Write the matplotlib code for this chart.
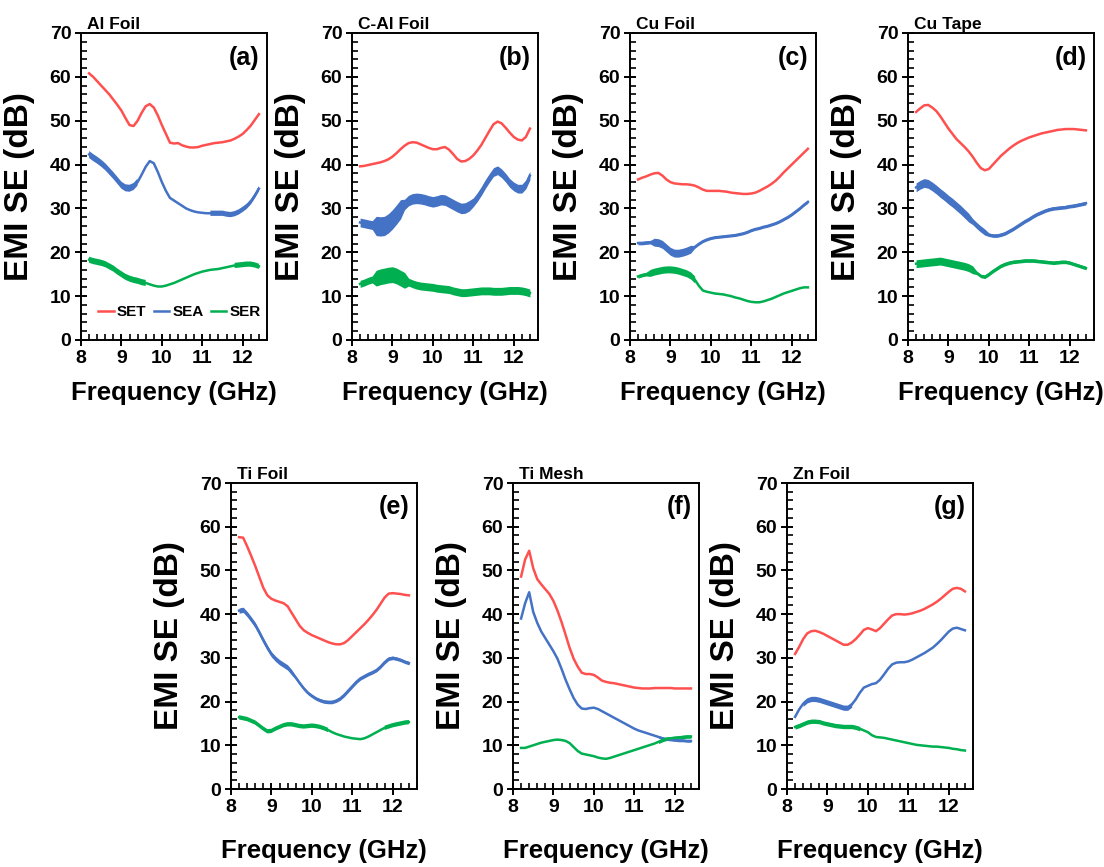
import numpy as np
import matplotlib
matplotlib.use("Agg")
import matplotlib.pyplot as plt
from matplotlib.ticker import MultipleLocator

plt.rcParams["font.family"] = ["Liberation Sans", "DejaVu Sans"]
plt.rcParams["font.weight"] = "bold"

# frequency axis (GHz)
FREQ = [8.2, 8.3, 8.4, 8.5, 8.6, 8.7, 8.8, 8.9, 9.0, 9.1, 9.2, 9.3, 9.4, 9.5,
        9.6, 9.7, 9.8, 9.9, 10.0, 10.1, 10.2, 10.3, 10.4, 10.5, 10.6, 10.7,
        10.8, 10.9, 11.0, 11.1, 11.2, 11.3, 11.4, 11.5, 11.6, 11.7, 11.8,
        11.9, 12.0, 12.1, 12.2, 12.3, 12.4]

# (a) Al Foil
AL_SET = [60.8, 60.0, 59.0, 58.0, 57.0, 56.0, 54.8, 53.6, 52.3, 50.6, 49.0, 48.8, 50.0, 51.8,
          53.3, 53.8, 53.0, 51.2, 49.0, 47.0, 45.0, 44.8, 44.9, 44.4, 44.1, 43.9,
          43.9, 44.0, 44.3, 44.5, 44.7, 44.9, 45.0, 45.1, 45.3, 45.5, 45.9,
          46.4, 47.0, 47.9, 48.9, 50.2, 51.5]
AL_SEA = [42.3, 41.6, 41.0, 40.3, 39.5, 38.5, 37.5, 36.4, 35.3, 34.7, 34.6, 35.0, 36.0, 37.7,
          39.5, 40.8, 40.3, 38.3, 36.0, 34.0, 32.4, 31.8, 31.2, 30.6, 30.0, 29.6,
          29.3, 29.1, 29.0, 28.9, 28.9, 28.9, 28.9, 28.9, 28.7, 28.6, 28.8,
          29.2, 29.8, 30.5, 31.5, 32.9, 34.5]
AL_SER = [18.3, 18.0, 17.8, 17.6, 17.3, 16.8, 16.3, 15.6, 15.0, 14.4, 14.0, 13.7, 13.5, 13.2,
          13.0, 12.7, 12.4, 12.2, 12.2, 12.4, 12.7, 13.0, 13.4, 13.8, 14.2, 14.6,
          15.0, 15.3, 15.6, 15.8, 16.0, 16.1, 16.2, 16.4, 16.6, 16.8, 17.0,
          17.1, 17.2, 17.3, 17.3, 17.1, 16.8]
# ripple envelopes: (from GHz, to GHz, half width dB)
AL_RIP = {"SET": [], "SEA": [(8.2, 9.4, 0.8), (11.2, 12.4, 0.6)],
          "SER": [(8.2, 9.6, 0.7), (11.8, 12.4, 0.6)]}

# (b) C-Al Foil
CAL_SET = [39.6, 39.7, 39.9, 40.1, 40.3, 40.5, 40.8, 41.2, 41.8, 42.6, 43.5, 44.3, 44.9, 45.1,
           45.0, 44.6, 44.2, 43.8, 43.5, 43.5, 43.8, 44.0, 43.4, 42.4, 41.3, 40.7,
           40.8, 41.3, 42.1, 43.2, 44.5, 46.1, 47.7, 49.2, 49.8, 49.4, 48.4,
           47.3, 46.3, 45.7, 45.5, 46.3, 48.2]
CAL_SEA = [26.8, 26.6, 26.4, 26.2, 26.0, 25.9, 26.0, 26.6, 27.5, 28.6, 29.8, 30.9, 31.8, 32.2,
           32.3, 32.2, 32.0, 31.7, 31.5, 31.7, 32.0, 31.9, 31.4, 30.9, 30.4, 30.0,
           30.1, 30.6, 31.4, 32.6, 34.0, 35.6, 37.0, 38.3, 38.7, 38.0, 37.0,
           35.8, 35.0, 34.5, 34.5, 35.5, 37.5]
CAL_SER = [12.8, 13.1, 13.5, 13.8, 14.1, 14.4, 14.6, 14.8, 14.9, 14.6, 14.1, 13.6, 13.2, 12.8,
           12.5, 12.3, 12.2, 12.1, 12.0, 11.8, 11.7, 11.6, 11.5, 11.2, 11.0, 10.8,
           10.8, 10.9, 11.0, 11.1, 11.2, 11.2, 11.2, 11.1, 11.1, 11.1, 11.2,
           11.3, 11.3, 11.3, 11.2, 11.0, 10.7]
CAL_RIP = {"SET": [], "SEA": [(8.2, 8.6, 1.0), (8.6, 9.3, 2.2), (9.3, 11.0, 1.2), (11.0, 12.4, 1.0)],
           "SER": [(8.2, 8.6, 0.8), (8.6, 9.4, 1.8), (9.4, 12.4, 0.9)]}

# (c) Cu Foil
CUF_SET = [36.6, 37.0, 37.3, 37.7, 38.0, 38.1, 37.5, 36.6, 36.0, 35.7, 35.6, 35.5, 35.5, 35.4,
           35.2, 34.8, 34.3, 34.0, 34.0, 34.0, 34.0, 33.9, 33.8, 33.6, 33.5, 33.4,
           33.3, 33.3, 33.4, 33.6, 34.0, 34.5, 35.0, 35.6, 36.3, 37.2, 38.2,
           39.1, 40.0, 40.9, 41.8, 42.7, 43.6]
CUF_SEA = [22.1, 22.1, 22.2, 22.3, 22.3, 22.2, 21.8, 21.0, 20.2, 19.8, 19.8, 20.0, 20.3, 20.7,
           21.2, 21.9, 22.5, 22.9, 23.2, 23.4, 23.5, 23.6, 23.7, 23.8, 23.9, 24.1,
           24.3, 24.6, 25.0, 25.3, 25.5, 25.8, 26.0, 26.3, 26.6, 27.0, 27.5,
           28.0, 28.6, 29.3, 30.0, 30.8, 31.5]
CUF_SER = [14.5, 14.8, 15.0, 15.3, 15.6, 15.8, 16.0, 16.1, 16.1, 16.0, 15.8, 15.5, 15.2, 14.7,
           13.8, 12.4, 11.3, 11.0, 10.8, 10.6, 10.5, 10.4, 10.2, 10.0, 9.7, 9.5,
           9.2, 8.9, 8.7, 8.6, 8.6, 8.8, 9.1, 9.4, 9.8, 10.2, 10.6,
           10.9, 11.2, 11.5, 11.8, 12.0, 12.0]
CUF_RIP = {"SET": [], "SEA": [(8.2, 8.6, 0.4), (8.6, 9.6, 0.9), (9.6, 12.4, 0.3)],
           "SER": [(8.2, 8.5, 0.4), (8.5, 9.6, 0.8)]}

# (d) Cu Tape
CUT_SET = [52.0, 52.8, 53.5, 53.6, 53.0, 52.2, 51.0, 49.6, 48.2, 47.0, 45.8, 44.9, 44.0, 43.0,
           41.8, 40.4, 39.2, 38.7, 39.0, 40.0, 41.0, 42.0, 42.8, 43.6, 44.3, 44.9,
           45.4, 45.8, 46.2, 46.5, 46.8, 47.1, 47.3, 47.5, 47.7, 47.9, 48.0,
           48.1, 48.1, 48.1, 48.0, 47.9, 47.8]
CUT_SEA = [34.8, 35.4, 35.8, 35.6, 35.0, 34.3, 33.5, 32.8, 32.0, 31.3, 30.5, 29.7, 28.8, 27.9,
           27.0, 26.1, 25.3, 24.6, 24.0, 23.8, 23.8, 24.0, 24.3, 24.8, 25.3, 25.9,
           26.5, 27.1, 27.6, 28.2, 28.7, 29.1, 29.5, 29.8, 30.0, 30.1, 30.2,
           30.3, 30.5, 30.6, 30.8, 31.0, 31.2]
CUT_SER = [17.4, 17.5, 17.6, 17.7, 17.8, 17.9, 18.0, 17.8, 17.6, 17.4, 17.2, 17.0, 16.8, 16.5,
           16.0, 15.3, 14.6, 14.4, 15.0, 15.7, 16.3, 16.9, 17.3, 17.6, 17.8, 17.9,
           18.0, 18.1, 18.1, 18.1, 18.0, 17.9, 17.8, 17.7, 17.6, 17.7, 17.8,
           17.8, 17.6, 17.3, 17.0, 16.7, 16.4]
CUT_RIP = {"SET": [], "SEA": [(8.2, 9.6, 1.0), (9.6, 10.0, 0.7), (10.0, 12.4, 0.4)],
           "SER": [(8.2, 9.7, 0.9), (9.7, 12.4, 0.4)]}

# (e) Ti Foil
TIF_SET = [57.6, 57.5, 55.5, 53.3, 51.0, 48.5, 46.0, 44.3, 43.5, 43.1, 42.8, 42.5, 41.8, 40.3,
           38.8, 37.3, 36.3, 35.7, 35.2, 34.8, 34.4, 34.0, 33.6, 33.3, 33.1, 33.1,
           33.4, 34.1, 35.0, 35.9, 36.8, 37.7, 38.7, 39.8, 41.0, 42.4, 43.8,
           44.7, 44.8, 44.7, 44.6, 44.4, 44.3]
TIF_SEA = [40.8, 41.0, 40.0, 38.8, 37.5, 35.8, 34.0, 32.3, 30.8, 29.8, 29.0, 28.4, 27.8, 26.7,
           25.5, 24.2, 23.0, 22.0, 21.3, 20.7, 20.3, 20.0, 19.9, 19.9, 20.2, 20.7,
           21.5, 22.5, 23.5, 24.5, 25.3, 25.8, 26.3, 26.7, 27.2, 28.0, 29.0,
           29.8, 30.0, 29.8, 29.5, 29.1, 28.8]
TIF_SER = [16.4, 16.2, 16.0, 15.6, 15.2, 14.5, 13.8, 13.2, 13.3, 13.8, 14.2, 14.6, 14.8, 14.8,
           14.6, 14.4, 14.3, 14.4, 14.5, 14.4, 14.2, 13.9, 13.5, 13.0, 12.6, 12.3,
           12.0, 11.8, 11.6, 11.5, 11.4, 11.6, 12.0, 12.5, 13.0, 13.5, 14.0,
           14.3, 14.6, 14.8, 15.0, 15.2, 15.3]
TIF_RIP = {"SET": [], "SEA": [(8.2, 9.6, 0.6), (9.6, 12.4, 0.4)],
           "SER": [(8.2, 10.4, 0.5), (11.8, 12.4, 0.5)]}

# (f) Ti Mesh
TIM_SET = [48.6, 52.5, 54.5, 50.5, 48.0, 46.8, 45.7, 44.6, 43.0, 40.8, 38.2, 35.3, 32.3, 29.8,
           28.0, 26.6, 26.3, 26.3, 26.1, 25.5, 24.8, 24.5, 24.3, 24.2, 24.0, 23.8,
           23.6, 23.4, 23.2, 23.1, 23.0, 23.0, 23.0, 23.1, 23.1, 23.1, 23.1,
           23.1, 23.0, 23.0, 23.0, 23.0, 23.0]
TIM_SEA = [39.0, 42.5, 45.0, 40.5, 38.0, 36.0, 34.5, 33.0, 31.5, 29.8, 27.5, 25.0, 22.8, 20.8,
           19.3, 18.4, 18.3, 18.5, 18.6, 18.3, 17.8, 17.3, 16.8, 16.3, 15.8, 15.3,
           14.8, 14.3, 13.8, 13.4, 13.1, 12.8, 12.5, 12.2, 11.9, 11.6, 11.4,
           11.3, 11.2, 11.1, 11.1, 11.0, 11.0]
TIM_SER = [9.4, 9.4, 9.7, 10.0, 10.3, 10.6, 10.8, 11.0, 11.2, 11.3, 11.2, 11.0, 10.5, 9.6,
           8.7, 8.1, 7.9, 7.7, 7.5, 7.2, 7.0, 6.9, 7.1, 7.4, 7.7, 8.0,
           8.3, 8.6, 8.9, 9.2, 9.5, 9.8, 10.1, 10.4, 10.8, 11.2, 11.5,
           11.6, 11.7, 11.8, 11.9, 12.0, 12.0]
TIM_RIP = {"SET": [], "SEA": [(11.6, 12.4, 0.3)], "SER": [(11.6, 12.4, 0.4)]}

# (g) Zn Foil
ZN_SET = [30.9, 32.5, 34.3, 35.6, 36.1, 36.2, 35.9, 35.5, 35.0, 34.5, 34.0, 33.5, 33.0, 33.0,
          33.5, 34.3, 35.3, 36.4, 36.8, 36.5, 36.1, 36.8, 37.8, 38.8, 39.7, 40.0,
          40.0, 39.9, 40.0, 40.2, 40.5, 40.8, 41.2, 41.7, 42.2, 42.8, 43.5,
          44.3, 45.1, 45.8, 46.0, 45.8, 45.2]
ZN_SEA = [16.5, 18.2, 19.5, 20.3, 20.6, 20.6, 20.4, 20.1, 19.8, 19.5, 19.2, 18.9, 18.6, 18.6,
          19.3, 20.5, 22.0, 23.2, 23.6, 24.0, 24.2, 25.0, 26.2, 27.5, 28.5, 28.9,
          29.0, 29.0, 29.2, 29.6, 30.1, 30.6, 31.1, 31.7, 32.3, 33.1, 34.0,
          35.0, 36.0, 36.7, 36.9, 36.6, 36.3]
ZN_SER = [14.2, 14.5, 14.9, 15.3, 15.5, 15.5, 15.4, 15.1, 14.9, 14.7, 14.5, 14.4, 14.3, 14.3,
          14.3, 14.1, 13.8, 13.4, 13.0, 12.3, 11.9, 11.8, 11.7, 11.5, 11.3, 11.1,
          10.9, 10.7, 10.5, 10.3, 10.1, 10.0, 9.9, 9.8, 9.7, 9.7, 9.6,
          9.5, 9.4, 9.2, 9.1, 8.9, 8.8]
ZN_RIP = {"SET": [], "SEA": [(8.4, 9.6, 0.6)], "SER": [(8.2, 9.8, 0.5)]}

PANELS = [
    ("Al Foil", "(a)", AL_SET, AL_SEA, AL_SER, AL_RIP),
    ("C-Al Foil", "(b)", CAL_SET, CAL_SEA, CAL_SER, CAL_RIP),
    ("Cu Foil", "(c)", CUF_SET, CUF_SEA, CUF_SER, CUF_RIP),
    ("Cu Tape", "(d)", CUT_SET, CUT_SEA, CUT_SER, CUT_RIP),
    ("Ti Foil", "(e)", TIF_SET, TIF_SEA, TIF_SER, TIF_RIP),
    ("Ti Mesh", "(f)", TIM_SET, TIM_SEA, TIM_SER, TIM_RIP),
    ("Zn Foil", "(g)", ZN_SET, ZN_SEA, ZN_SER, ZN_RIP),
]

COLORS = {"SET": "#FF5050", "SEA": "#4472C4", "SER": "#00B050"}

W, H = 1104, 867
# axes boxes in pixels: left, top, width, height
BOXES = [(81, 33, 186, 307), (352, 33, 186, 307), (630, 33, 186, 307), (908, 33, 186, 307),
         (231, 483, 186, 306), (513, 483, 186, 306), (787, 483, 186, 306)]

fig = plt.figure(figsize=(W / 100, H / 100), dpi=100)
x = np.array(FREQ)

for i, (name, tag, s_t, s_a, s_r, rip) in enumerate(PANELS):
    l, t, w, h = BOXES[i]
    ax = fig.add_axes([l / W, 1 - (t + h) / H, w / W, h / H])
    for key, vals in (("SET", s_t), ("SEA", s_a), ("SER", s_r)):
        y = np.array(vals)
        ax.plot(x, y, color=COLORS[key], lw=1.8, label=key)
        half = np.zeros_like(y)
        for a, b, hw in rip[key]:
            half[(x >= a - 1e-9) & (x <= b + 1e-9)] = hw
        if half.any():
            ax.fill_between(x, y - half, y + half, where=half > 0,
                            color=COLORS[key], lw=0, interpolate=False)

    ax.set_xlim(8, 12.6)
    ax.set_ylim(0, 70)
    ax.set_xticks([8, 9, 10, 11, 12])
    ax.set_yticks(range(0, 71, 10))
    ax.xaxis.set_minor_locator(MultipleLocator(0.2))
    ax.yaxis.set_minor_locator(MultipleLocator(2))
    ax.tick_params(which="major", direction="inout", length=8, width=1.4,
                   labelsize=14, pad=3)
    ax.tick_params(which="minor", direction="in", length=4, width=1.2)
    for sp in ax.spines.values():
        sp.set_linewidth(1.4)

    ax.set_xlabel("Frequency (GHz)", fontsize=18.5, fontweight="bold")
    ax.set_ylabel("EMI SE (dB)", fontsize=24, fontweight="bold")
    ax.xaxis.set_label_coords(0.5, -0.135 if i < 4 else -0.165)
    ax.yaxis.set_label_coords(-0.245, 0.5)

    ax.text(0.03, 1.013, name, transform=ax.transAxes, fontsize=12.5,
            fontweight="bold", ha="left", va="baseline")
    ax.text(0.96, 0.92, tag, transform=ax.transAxes, fontsize=18,
            fontweight="bold", ha="right", va="center")

    if i == 0:
        ax.legend(loc="center", bbox_to_anchor=(0.53, 0.09), ncol=3,
                  frameon=False, handlelength=1.0, handletextpad=0.2,
                  columnspacing=0.5, prop={"size": 11, "weight": "bold"})

fig.savefig("out.png", dpi=100)
